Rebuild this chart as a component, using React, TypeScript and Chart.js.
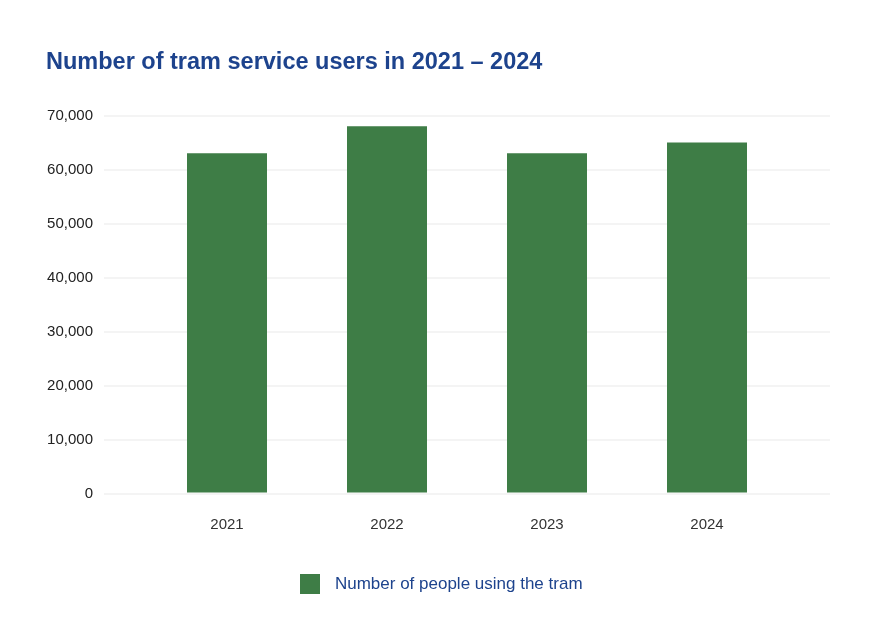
import React, { useEffect, useRef } from "react";
import { Chart, registerables } from "chart.js";

Chart.register(...registerables);

const categories: string[] = ["2021", "2022", "2023", "2024"];
const users: number[] = [63000, 68000, 63000, 65000];
const yMin = 0;
const yMax = 70000;
const yStep = 10000;
const chartTitle = "Number of tram service users in 2021 – 2024";
const seriesLabel = "Number of people using the tram";

const GREEN = "#3e7d46";
const BLUE = "#1d438d";
const FONT = "'Liberation Sans', Arial, Helvetica, sans-serif";

export default function App() {
  const ref = useRef<HTMLCanvasElement | null>(null);

  useEffect(() => {
    if (!ref.current) return;
    const swatch = document.createElement("canvas");
    swatch.width = 20;
    swatch.height = 20;
    const sctx = swatch.getContext("2d");
    if (sctx) {
      sctx.fillStyle = GREEN;
      sctx.fillRect(0, 0, 20, 20);
    }

    const chart = new Chart(ref.current, {
      type: "bar",
      data: {
        datasets: [
          {
            label: seriesLabel,
            data: users.map((v, i) => ({ x: i, y: v })),
            backgroundColor: GREEN,
            borderWidth: 0,
            categoryPercentage: 1,
            barPercentage: 0.5,
          },
        ],
      },
      options: {
        animation: false,
        responsive: false,
        devicePixelRatio: 1,
        layout: { padding: { left: 46, right: 50, top: 0, bottom: 37.5 } },
        plugins: {
          title: {
            display: true,
            text: chartTitle,
            align: "start",
            color: BLUE,
            font: { family: FONT, size: 23.5, weight: "bold" },
            padding: { top: 48.8, bottom: 38.5 },
          },
          legend: {
            display: true,
            position: "bottom",
            labels: {
              usePointStyle: true,
              pointStyle: swatch as any,
              pointStyleWidth: 33,
              color: BLUE,
              font: { family: FONT, size: 17 },
              padding: 10,
            },
          },
          tooltip: { enabled: false },
        },
        scales: {
          x: {
            type: "linear",
            min: -0.76875,
            max: categories.length - 1 + 0.76875,
            offset: false,
            grid: { display: false, drawTicks: false },
            border: { display: false },
            ticks: {
              stepSize: 1,
              includeBounds: false,
              autoSkip: false,
              maxRotation: 0,
              padding: 22,
              color: "#333333",
              font: { family: FONT, size: 15 },
              callback: (v: any) => {
                const n = Number(v);
                return Number.isInteger(n) && categories[n] ? categories[n] : "";
              },
            },
            afterFit: (axis: any) => {
              axis.height = 72;
            },
          },
          y: {
            min: yMin,
            max: yMax,
            grid: { color: "#f4f4f4", lineWidth: 2, drawTicks: false },
            border: { display: false },
            ticks: {
              stepSize: yStep,
              padding: 11,
              color: "#222222",
              font: { family: FONT, size: 15 },
              callback: (v: any) => Number(v).toLocaleString("en-US"),
            },
            afterFit: (axis: any) => {
              axis.width = 58;
            },
          },
        },
      },
    } as any);

    return () => chart.destroy();
  }, []);

  return (
    <div style={{ position: "absolute", left: 0, top: 0, width: 880, height: 640, background: "#ffffff" }}>
      <canvas ref={ref} width={880} height={640} style={{ display: "block" }} />
    </div>
  );
}
